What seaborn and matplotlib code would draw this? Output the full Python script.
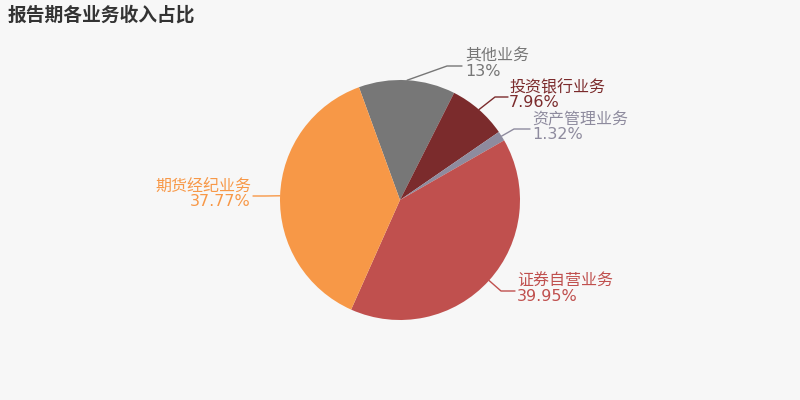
import numpy as np
import seaborn as sns
import matplotlib
matplotlib.use('Agg')
import matplotlib.pyplot as plt

# data
names = ['其他业务', '投资银行业务', '资产管理业务', '证券自营业务', '期货经纪业务']
shares = [13, 7.96, 1.32, 39.95, 37.77]
colors = ['#777777', '#7b2b2c', '#8e8b9e', '#c0504e', '#f79847']

# label layout in screen pixels: (elbow x, elbow y, end x, text x, align)
label_pos = [
    (447, 66, 462, 465, 'left'),
    (495, 97, 508, 509, 'left'),
    (514, 129, 530, 532, 'left'),
    (501, 291, 515, 517, 'left'),
    (265, 196, 253, 251, 'right'),
]

sns.set_theme(style='white')
plt.rcParams['font.family'] = ['DejaVu Sans', 'Noto Sans CJK SC']

bg = '#f7f7f7'
fig = plt.figure(figsize=(8, 4), dpi=100, facecolor=bg)
ax = fig.add_axes([0, 0, 1, 1])
ax.set_facecolor(bg)

cx, cy, r = 400, 200, 120
wedges, _ = ax.pie(shares, colors=colors, startangle=110, counterclock=False,
                   center=(cx, cy), radius=r, frame=True,
                   wedgeprops=dict(linewidth=0))
ax.set_xlim(0, 800)
ax.set_ylim(0, 400)
ax.set_aspect('equal')
ax.axis('off')

for w, name, v, c, (ex, ey, lx, tx, ha) in zip(wedges, names, shares, colors, label_pos):
    mid = np.deg2rad((w.theta1 + w.theta2) / 2)
    sx, sy = cx + r * np.cos(mid), cy + r * np.sin(mid)
    ax.plot([sx, ex, lx], [sy, 400 - ey, 400 - ey], color=c, lw=1)
    ax.text(tx, 400 - ey + 2, f'{name}\n{v:g}%', ha=ha, va='center',
            color=c, fontsize=11.5, linespacing=1.0, multialignment=ha)

fig.text(8 / 800, 1 - 15 / 400, '报告期各业务收入占比', fontsize=13.5, fontweight='bold',
         color='#333333', va='center', ha='left',
         family=['Noto Sans CJK SC', 'DejaVu Sans'])

fig.savefig('out.png', dpi=100, facecolor=bg)
